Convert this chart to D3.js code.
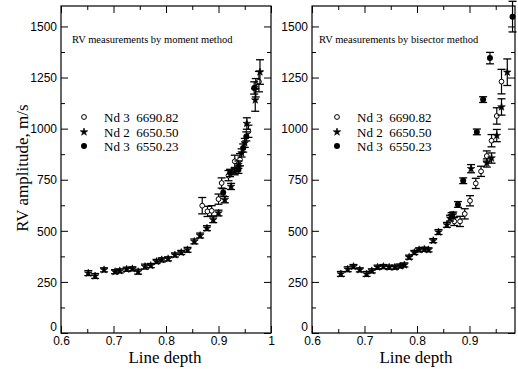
<!DOCTYPE html>
<html>
<head>
<meta charset="utf-8">
<script src="https://cdn.jsdelivr.net/npm/d3@7"></script>
<style>
  body { margin: 0; background: #fff; }
  svg { display: block; font-family: "Liberation Serif", "DejaVu Serif", serif; }
  .tick text { font-size: 12px; fill: #000; }
  .tick line { stroke: #000; }
</style>
</head>
<body>
<div id="chart"></div>
<script>
// series: [line depth, RV amplitude, error]
const legendLabels = ["Nd 3  6690.82", "Nd 2  6650.50", "Nd 3  6550.23"];
const panelTitles = ["RV measurements by moment method", "RV measurements by bisector method"];
const yTicks = [0, 250, 500, 750, 1000, 1250, 1500];
const xTicks = [0.6, 0.7, 0.8, 0.9, 1.0];

// moment method
const momentOpen = [
	[0.869, 623, 40], [0.879, 595, 25], [0.887, 598, 25], [0.900, 655, 25], [0.906, 734, 25],
	[0.919, 770, 25], [0.931, 840, 30], [0.941, 848, 30], [0.957, 987, 30], [0.971, 1200, 45],
	[0.977, 1230, 50]
];
const momentStar = [
	[0.652, 293, 12], [0.665, 279, 12], [0.682, 309, 10], [0.703, 300, 10], [0.712, 304, 10],
	[0.725, 312, 10], [0.736, 314, 10], [0.747, 300, 12], [0.760, 325, 12], [0.771, 330, 10],
	[0.782, 350, 10], [0.792, 358, 10], [0.804, 363, 10], [0.817, 382, 10], [0.829, 394, 10],
	[0.841, 407, 12], [0.854, 448, 12], [0.865, 477, 12], [0.878, 513, 12], [0.890, 554, 14],
	[0.900, 587, 14], [0.912, 652, 15], [0.924, 717, 15], [0.931, 790, 16], [0.938, 824, 18],
	[0.944, 881, 20], [0.950, 930, 22], [0.954, 1025, 28], [0.970, 1140, 55], [0.979, 1277, 60]
];
const momentFilled = [
	[0.909, 688, 18], [0.922, 783, 18], [0.938, 799, 18], [0.947, 905, 20], [0.953, 962, 22],
	[0.968, 1199, 30]
];

// bisector method
const bisectorOpen = [
	[0.871, 546, 20], [0.882, 546, 25], [0.891, 583, 25], [0.901, 647, 25], [0.912, 732, 25],
	[0.922, 791, 25], [0.933, 866, 25], [0.942, 941, 30], [0.952, 1062, 40], [0.961, 1230, 60]
];
const bisectorStar = [
	[0.655, 289, 12], [0.668, 312, 12], [0.679, 325, 10], [0.691, 309, 10], [0.704, 289, 12],
	[0.714, 304, 10], [0.725, 322, 10], [0.736, 325, 10], [0.747, 322, 10], [0.758, 322, 10],
	[0.768, 328, 10], [0.776, 333, 10], [0.785, 371, 10], [0.795, 394, 10], [0.804, 407, 10],
	[0.814, 410, 10], [0.822, 407, 10], [0.831, 452, 10], [0.841, 494, 12], [0.857, 529, 12],
	[0.863, 562, 14], [0.866, 575, 14], [0.869, 578, 14], [0.903, 804, 20], [0.933, 832, 20],
	[0.942, 856, 25], [0.952, 966, 30], [0.961, 1106, 40], [0.972, 1276, 65]
];
const bisectorFilled = [
	[0.878, 629, 14], [0.888, 745, 14], [0.914, 984, 14], [0.926, 1142, 14], [0.939, 1345, 28],
	[0.982, 1548, 75]
];

const width = 518, height = 369;
const svg = d3.select("#chart").append("svg")
	.attr("width", width)
	.attr("height", height);

const y = d3.scaleLinear().domain([0, 1600]).range([333, 6]);

const panels = [
	{x: d3.scaleLinear().domain([0.6, 1.0]).range([61, 271]), title: panelTitles[0], titleX: 72,
		legendX: 84, series: [momentOpen, momentStar, momentFilled], labels: xTicks},
	{x: d3.scaleLinear().domain([0.6, 0.9867]).range([312, 515]), title: panelTitles[1], titleX: 319,
		legendX: 337, series: [bisectorOpen, bisectorStar, bisectorFilled], labels: xTicks.slice(0, 4)}
];

const yMinor = d3.range(125, 1600, 250);
const xMinor = [0.65, 0.75, 0.85, 0.95];

function drawMarker(g, kind, cx, cy) {
	if (kind === 0) {
		g.append("circle").attr("cx", cx).attr("cy", cy).attr("r", 2.4)
			.attr("fill", "#fff").attr("stroke", "#000").attr("stroke-width", 1);
	} else if (kind === 1) {
		g.append("path").attr("transform", `translate(${cx},${cy})`)
			.attr("d", d3.symbol(d3.symbolStar, 18)()).attr("fill", "#000")
			.attr("stroke", "#000").attr("stroke-width", 0.6);
	} else {
		g.append("circle").attr("cx", cx).attr("cy", cy).attr("r", 3).attr("fill", "#000");
	}
}

panels.forEach(p => {
	const [x0, x1] = p.x.range();
	const g = svg.append("g");

	// frame
	g.append("rect")
		.attr("x", x0).attr("y", y(1600))
		.attr("width", x1 - x0).attr("height", y(0) - y(1600))
		.attr("fill", "none").attr("stroke", "#000").attr("stroke-width", 1.2);

	// major/minor ticks, inward on all four sides
	const left = g.append("g").attr("transform", `translate(${x0},0)`)
		.call(d3.axisLeft(y).tickValues(yTicks).tickSize(-7).tickPadding(4).tickFormat(d3.format("d")));
	g.append("g").attr("transform", `translate(${x0},0)`)
		.call(d3.axisLeft(y).tickValues(yMinor).tickSize(-4).tickFormat(""));
	g.append("g").attr("transform", `translate(${x1},0)`)
		.call(d3.axisRight(y).tickValues(yTicks).tickSize(-7).tickFormat(""));
	g.append("g").attr("transform", `translate(${x1},0)`)
		.call(d3.axisRight(y).tickValues(yMinor).tickSize(-4).tickFormat(""));

	g.append("g").attr("transform", `translate(0,${y(0)})`)
		.call(d3.axisBottom(p.x).tickValues(p.labels).tickSize(-7).tickPadding(3)
			.tickFormat(d => d === 1 ? "1" : d3.format(".1f")(d)));
	g.append("g").attr("transform", `translate(0,${y(0)})`)
		.call(d3.axisBottom(p.x).tickValues(xMinor).tickSize(-4).tickFormat(""));
	g.append("g").attr("transform", `translate(0,${y(1600)})`)
		.call(d3.axisTop(p.x).tickValues(p.labels).tickSize(-7).tickFormat(""));
	g.append("g").attr("transform", `translate(0,${y(1600)})`)
		.call(d3.axisTop(p.x).tickValues(xMinor).tickSize(-4).tickFormat(""));

	g.selectAll(".domain").remove();
	left.selectAll(".tick text").attr("dy", "0.35em");
	left.selectAll(".tick").filter(d => d === 0).select("text").attr("dy", "-0.2em");

	// x-axis title
	g.append("text")
		.attr("x", (p.x(0.6) + p.x(1.0)) / 2 - 1).attr("y", 363)
		.attr("text-anchor", "middle").attr("font-size", 17)
		.text("Line depth");

	// panel title
	g.append("text")
		.attr("x", p.titleX).attr("y", 43)
		.attr("font-size", 10.5)
		.text(p.title);

	// data: error bars then markers
	p.series.forEach((s, k) => {
		const sg = g.append("g");
		s.forEach(([d, v, e]) => {
			const cx = p.x(d);
			sg.append("line").attr("x1", cx).attr("x2", cx)
				.attr("y1", y(v - e)).attr("y2", y(v + e))
				.attr("stroke", "#000").attr("stroke-width", 1.2);
			[v - e, v + e].forEach(t => sg.append("line")
				.attr("x1", cx - 4).attr("x2", cx + 4)
				.attr("y1", y(t)).attr("y2", y(t))
				.attr("stroke", "#000").attr("stroke-width", 1.3));
		});
		s.forEach(([d, v]) => drawMarker(sg, k, p.x(d), y(v)));
	});

	// legend
	const rows = [117, 132, 146];
	legendLabels.forEach((label, k) => {
		drawMarker(g, k, p.legendX, rows[k]);
		g.append("text")
			.attr("x", p.legendX + 20).attr("y", rows[k])
			.attr("dy", "0.35em").attr("font-size", 13)
			.style("white-space", "pre")
			.text(label);
	});
});

// y-axis title
svg.append("text")
	.attr("transform", "translate(22,168) rotate(-90)")
	.attr("text-anchor", "middle").attr("dy", "0.35em")
	.attr("font-size", 17)
	.text("RV amplitude, m/s");
</script>
</body>
</html>
